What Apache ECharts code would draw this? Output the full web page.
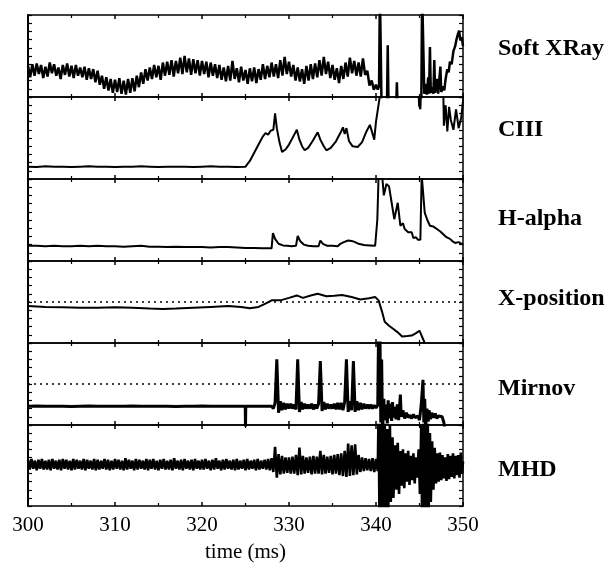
<!DOCTYPE html>
<html><head><meta charset="utf-8">
<script src="https://cdn.jsdelivr.net/npm/echarts@6/dist/echarts.min.js"></script>
<style>html,body{margin:0;padding:0;background:#fff}#c{width:615px;height:564px}</style>
</head><body><div id="c"></div>
<script>
// ---------- DATA ----------
const timeRange = [300, 350];
const timeTickStep = 10;
const panelNames = ['Soft XRay', 'CIII', 'H-alpha', 'X-position', 'Mirnov', 'MHD'];
const referenceLevels = { 'X-position': 5, 'Mirnov': 5 };

// Soft XRay: regular samples from 300 ms every 0.25 ms, then irregular tail
const softXrayStart = 300, softXrayStep = 0.25;
const softXrayValues = [
  3.8,2.4,4.0,2.6, 4.1,2.8,3.9,2.3, 3.7,2.5,4.2,2.9, 4.0,2.6,3.6,2.2,
  3.9,2.7,4.1,2.5, 3.8,2.3,3.9,2.6, 3.6,2.4,3.7,2.1, 3.5,2.2,3.4,1.8,
  3.2,1.5,2.6,1.0, 2.4,0.8,2.2,0.5, 2.1,0.6,2.3,0.4, 2.0,0.3,2.2,0.5,
  2.3,0.7,2.6,1.2, 3.0,1.6,3.4,2.0, 3.6,2.2,3.9,2.4, 3.8,2.1,4.2,2.6,
  4.3,2.7,4.5,2.5, 4.4,2.9,4.8,2.8, 5.0,3.0,4.7,2.7, 4.6,2.9,4.5,2.6,
  4.4,2.8,4.3,2.4, 4.2,2.6,4.0,2.3, 3.9,2.1,3.6,1.9, 3.8,2.0,4.4,2.2,
  3.5,1.8,3.7,2.0, 3.3,1.6,3.5,1.9, 3.6,1.7,3.4,2.1, 4.0,2.2,3.8,2.4,
  4.2,2.5,4.0,2.3, 4.5,2.6,4.9,2.8, 4.3,2.5,3.9,2.0, 3.6,1.9,3.4,1.6,
  3.8,2.0,4.0,2.2, 4.1,2.4,4.5,2.6, 4.9,2.8,4.3,2.3, 3.9,2.1,3.5,1.7,
  3.8,2.2,4.2,2.5, 4.8,2.9,4.4,2.6, 4.2,2.5,4.7,2.7, 3.2,1.4,2.0,0.9
];
const softXrayTail = [
  [340.0,1.5],[340.2,0.9],[340.35,1.3],[340.45,13],[340.6,13],[340.65,-2],
  [341.25,-2],[341.35,6.3],[341.45,-2],[342.3,-2],[342.4,1.8],[342.5,-2],
  [345.2,-2],[345.3,13],[345.45,13],[345.55,0.4],[345.7,1.6],[345.85,0.3],
  [346.0,2.4],[346.1,0.4],[346.2,6.1],[346.3,0.5],[346.45,1.2],[346.6,0.4],
  [346.7,4.5],[346.8,0.5],[347.0,2.2],[347.15,0.4],[347.4,3.7],[347.5,0.6],
  [347.7,1.3],[347.85,0.8],[348.0,2.2],[348.2,3.4],[348.35,3.0],[348.5,4.3],
  [348.7,4.0],[348.9,5.6],[349.1,6.2],[349.25,7.0],[349.4,7.6],[349.55,8.1],
  [349.7,6.9],[349.85,7.3],[350,6.2]
];

// CIII
const ciiiStart = 300, ciiiStep = 1;
const ciiiValues = [1.5,1.45,1.55,1.5,1.5,1.45,1.5,1.55,1.5,1.5,1.45,1.5,1.5,
  1.55,1.5,1.45,1.5,1.5,1.5,1.45,1.5,1.55,1.5,1.5,1.45,1.5];
const ciiiTail = [
  [325.5,2.2],[326.0,3.2],[326.5,4.2],[327.0,5.2],[327.3,5.6],[327.6,5.4],
  [327.9,5.9],[328.2,6.0],[328.4,8.0],[328.6,6.2],[328.9,4.5],[329.2,3.3],
  [329.6,3.6],[330.0,4.2],[330.5,5.2],[330.9,6.0],[331.2,4.8],[331.5,4.0],
  [331.8,3.5],[332.2,3.8],[332.7,4.6],[333.3,5.7],[333.6,4.8],[334.0,4.0],
  [334.3,3.5],[334.8,3.8],[335.4,4.6],[335.9,5.6],[336.2,6.3],[336.4,5.5],
  [336.6,6.2],[336.9,4.6],[337.3,4.0],[337.9,3.9],[338.4,4.5],[338.9,5.8],
  [339.3,6.6],[339.5,5.9],[339.8,4.8],[340.0,7.0],[340.2,8.4],[340.5,10.5],
  [340.6,13],[344.8,13],[344.95,9.0],[345.1,8.5],[345.25,13],[347.7,13],
  [347.8,6.5],[348.0,9.0],[348.2,5.8],[348.4,8.8],[348.6,7.2],[348.9,6.0],
  [349.2,8.5],[349.5,6.2],[349.8,7.5],[350,9.5]
];

// H-alpha
const halphaStart = 300, halphaStep = 1;
const halphaValues = [1.85,1.85,1.8,1.85,1.8,1.8,1.85,1.8,1.85,1.8,1.8,1.75,1.8,
  1.85,1.75,1.75,1.7,1.75,1.7,1.7,1.7,1.65,1.7,1.7,1.65,1.6,1.6,1.55];
const halphaTail = [
  [328.0,1.55],[328.15,3.4],[328.4,2.7],[328.8,2.1],[329.3,1.9],[329.8,1.85],
  [330.3,1.8],[330.8,1.85],[331.0,3.05],[331.3,2.4],[331.7,2.0],[332.2,1.85],
  [332.8,1.8],[333.4,1.8],[333.6,2.5],[333.9,2.1],[334.4,1.85],[335.0,1.85],
  [335.6,1.8],[335.9,2.1],[336.3,2.3],[336.8,2.5],[337.2,2.45],[337.6,2.3],
  [338.0,2.1],[338.6,1.95],[339.3,1.9],[339.9,1.85],[340.15,5],[340.3,10.5],
  [340.7,10.5],[340.9,8.0],[341.2,9.4],[341.5,9.1],[341.8,7.1],[342.1,5.1],
  [342.5,7.1],[342.8,4.3],[343.1,4.6],[343.3,3.9],[343.5,4.1],[343.7,3.5],
  [343.9,3.3],[344.1,3.5],[344.3,2.8],[344.6,2.9],[344.8,2.6],[345.1,2.6],
  [345.25,10.5],[345.45,10.5],[345.6,5.9],[345.9,5.0],[346.2,4.3],[346.6,4.2],
  [347.0,3.9],[347.4,3.6],[347.7,3.3],[348.1,2.9],[348.5,2.7],[348.8,2.4],
  [349.1,2.2],[349.5,2.3],[350,2.0]
];

// X-position
const xposPoints = [
  [300,4.5],[301,4.45],[302,4.4],[304,4.35],[306,4.3],[308,4.3],[310,4.35],
  [312,4.3],[314,4.2],[315.5,4.15],[317,4.2],[319,4.3],[321,4.4],[323,4.5],
  [324.5,4.4],[325.5,4.25],[326.5,4.4],[327.3,4.8],[328.0,5.2],[329.0,5.2],
  [330.0,5.5],[330.9,5.8],[331.6,5.5],[332.5,5.8],[333.3,6.0],[334.3,5.7],
  [335.2,5.75],[336.1,5.85],[337.2,5.6],[338.2,5.3],[339.2,5.45],[339.9,5.6],
  [340.3,5.2],[340.7,3.8],[341.0,2.6],[341.5,2.1],[342.0,1.7],[342.5,1.3],
  [343.0,0.8],[343.6,0.85],[344.1,0.9],[344.6,1.2],[345.0,1.5],[345.6,0.0],
  [345.8,-0.8]
];

// Mirnov
const mirnovStart = 300, mirnovStep = 1;
const mirnovValues = [2.3,2.32,2.28,2.3,2.3,2.27,2.3,2.32,2.3,2.28,2.3,2.3,2.33,
  2.3,2.28,2.3,2.3,2.27,2.3,2.3,2.32,2.3,2.28,2.3,2.3];
const mirnovDrop = [[324.97,2.3],[325.0,-0.5],[325.03,2.3],[326,2.28],[327,2.3]];
const mirnovMidStart = 328, mirnovMidStep = 0.2;
const mirnovMidValues = [
  2.3,2.0,2.7,8.0,1.5,2.9,1.8,2.7,1.9,2.6,
  2.0,2.6,2.0,2.5,1.9,8.0,1.6,2.8,1.9,2.6,
  2.0,2.5,2.0,2.6,1.9,2.5,2.0,2.6,7.8,1.7,
  2.8,1.9,2.6,2.0,2.5,2.0,2.6,1.9,2.7,1.9,
  2.7,1.8,2.8,8.0,1.6,2.9,1.8,7.8,1.6,2.9,
  1.8,2.7,1.9,2.6,2.0,2.5,2.0,2.5,2.0,2.4,
  2.1,2.4
];
const mirnovTail = [
  [340.3,12],[340.4,3],[340.45,12],[340.55,0.3],[340.65,8],[340.75,-1],
  [340.9,3.2],[341.0,0.6],[341.15,2.5],[341.3,0.2],[341.4,3.0],[341.5,0.8],
  [341.65,2.6],[341.8,0.5],[341.9,2.8],[342.0,0.9],[342.15,2.2],[342.3,0.7],
  [342.45,2.5],[342.6,0.6],[342.8,3.7],[342.9,1.0],[343.1,1.8],[343.3,0.8],
  [343.5,1.5],[343.7,0.9],[343.9,1.2],[344.1,0.8],[344.3,1.3],[344.5,0.9],
  [344.8,1.1],[345.0,0.6],[345.2,2.5],[345.4,5.5],[345.5,0.3],[345.6,3.2],
  [345.7,-0.5],[345.85,2.0],[346.0,0.4],[346.1,1.8],[346.25,0.7],[346.4,1.5],
  [346.6,0.9],[346.8,1.4],[347.0,0.8],[347.2,1.1],[347.4,0.9],[347.6,1.0],
  [347.8,0.3],[348.0,-1]
];

// MHD
const mhdStart = 300, mhdStep = 0.2;
const mhdValues = [
  5.7,4.5,5.8,4.6,5.6,4.4,5.7,4.6,5.8,4.5,
  5.6,4.5,5.7,4.4,5.8,4.6,5.6,4.5,5.7,4.4,
  5.8,4.6,5.7,4.5,5.6,4.4,5.8,4.5,5.7,4.6,
  5.6,4.5,5.8,4.4,5.7,4.6,5.6,4.5,5.8,4.4,
  5.7,4.5,5.6,4.6,5.8,4.5,5.7,4.4,5.6,4.5,
  5.8,4.6,5.7,4.5,5.6,4.4,5.9,4.5,5.7,4.6,
  5.6,4.4,5.8,4.5,5.7,4.6,5.6,4.5,5.8,4.4,
  5.7,4.6,5.8,4.5,5.6,4.4,5.7,4.6,5.8,4.5,
  5.6,4.5,5.7,4.4,5.9,4.6,5.6,4.5,5.7,4.4,
  5.8,4.6,5.6,4.5,5.7,4.4,5.8,4.6,5.6,4.5,
  5.7,4.5,5.8,4.6,5.6,4.4,5.7,4.5,5.9,4.6,
  5.6,4.4,5.7,4.5,5.8,4.6,5.6,4.5,5.7,4.4,
  5.8,4.5,5.6,4.6,5.7,4.4,5.8,4.5,5.6,4.6,
  5.7,4.4,5.8,4.5,5.6,4.6,5.7,4.5,5.8,4.4,
  5.9,4.2,7.3,3.5,6.4,3.9,6.2,4.0,6.0,4.1,
  6.0,4.0,6.1,4.0,6.3,3.8,7.2,3.9,6.2,4.0,
  6.0,4.1,6.1,3.9,6.2,4.0,6.1,4.0,6.8,3.9,
  6.3,4.0,6.1,4.1,6.2,3.9,6.3,4.0,6.4,3.8,
  6.5,3.7,6.8,3.6,7.7,3.7,7.5,3.8,7.6,3.9,
  6.3,4.2,6.0,4.3,5.9,4.4,5.8,4.3,5.9,4.2,
  5.8,4.3
];
const mhdTail = [
  [340.3,12],[340.4,-2],[340.5,12],[340.6,-2],[340.75,12],[340.85,-2],
  [341.0,11],[341.1,-2],[341.3,9.5],[341.4,-1],[341.6,10],[341.7,0.5],
  [341.9,8.5],[342.0,1.0],[342.2,7.5],[342.35,2.0],[342.5,7.8],[342.65,1.5],
  [342.8,6.8],[342.95,2.5],[343.1,7.0],[343.25,2.2],[343.4,6.5],[343.55,3.0],
  [343.7,6.8],[343.85,2.6],[344.0,6.2],[344.15,3.2],[344.3,6.5],[344.45,2.8],
  [344.6,6.0],[344.75,3.5],[344.9,7.0],[345.05,1.5],[345.2,10],[345.3,-2],
  [345.45,12],[345.55,-2],[345.7,12],[345.8,-2],[345.95,11],[346.05,-1],
  [346.2,9],[346.3,0.5],[346.45,8],[346.6,2.0],[346.75,7.2],[346.9,2.8],
  [347.05,6.5],[347.2,3.0],[347.35,6.6],[347.5,3.2],[347.65,6.3],[347.8,3.4],
  [347.95,6.0],[348.1,3.1],[348.25,6.4],[348.4,3.3],[348.55,6.2],[348.7,3.6],
  [348.85,6.5],[349.0,3.4],[349.15,6.2],[349.3,3.8],[349.45,6.3],[349.6,3.5],
  [349.75,6.6],[349.9,4.0],[350,5.5]
];

// ---------- BUILD ----------
function sampled(t0, dt, vals) { return vals.map((v, i) => [t0 + i * dt, v]); }

const seriesData = [
  sampled(softXrayStart, softXrayStep, softXrayValues).concat(softXrayTail),
  sampled(ciiiStart, ciiiStep, ciiiValues).concat(ciiiTail),
  sampled(halphaStart, halphaStep, halphaValues).concat(halphaTail),
  xposPoints,
  sampled(mirnovStart, mirnovStep, mirnovValues).concat(mirnovDrop,
    sampled(mirnovMidStart, mirnovMidStep, mirnovMidValues), mirnovTail),
  sampled(mhdStart, mhdStep, mhdValues).concat(mhdTail)
];
const lineWidths = [2.5, 2, 2, 2, 3, 2.6];
const labelY = [49, 130, 219, 299, 389, 470];

const PANEL_TOP = 15, PANEL_H = 82, LEFT = 28, WIDTH = 435;
const FONT = '"Liberation Serif","Times New Roman",serif';
const grids = [], xAxes = [], yAxes = [], series = [], graphics = [];

for (let i = 0; i < panelNames.length; i++) {
  grids.push({ left: LEFT, width: WIDTH, top: PANEL_TOP + i * PANEL_H, height: PANEL_H });
  const isLast = i === panelNames.length - 1;
  const xBase = {
    type: 'value', gridIndex: i, min: timeRange[0], max: timeRange[1], interval: timeTickStep,
    splitLine: { show: false }, minorSplitLine: { show: false },
    axisLine: { show: true, onZero: false, lineStyle: { color: '#000', width: 1.5 } },
    axisTick: { show: true, inside: true, length: 4, lineStyle: { color: '#000', width: 1.5 } },
    minorTick: { show: true, splitNumber: 2, length: 3, lineStyle: { color: '#000', width: 1.2 } }
  };
  xAxes.push(Object.assign({}, xBase, {
    position: 'bottom',
    axisLabel: { show: isLast, color: '#000', fontSize: 21, fontFamily: FONT, margin: 9 },
    name: isLast ? 'time (ms)' : '',
    nameLocation: 'middle', nameGap: 36,
    nameTextStyle: { color: '#000', fontSize: 21, fontFamily: FONT }
  }));
  xAxes.push(Object.assign({}, xBase, { position: 'top', axisLabel: { show: false } }));
  const yBase = {
    type: 'value', gridIndex: i, min: 0, max: 10, interval: 1,
    splitLine: { show: false }, axisLabel: { show: false },
    axisTick: { show: true, inside: true, length: 4, lineStyle: { color: '#000', width: 1.2 } }
  };
  yAxes.push(Object.assign({}, yBase, { position: 'left',
    axisLine: { show: true, onZero: false, lineStyle: { color: '#000', width: 2 } } }));
  yAxes.push(Object.assign({}, yBase, { position: 'right',
    axisLine: { show: true, onZero: false, lineStyle: { color: '#000', width: 1.5 } } }));

  const s = {
    type: 'line', xAxisIndex: 2 * i, yAxisIndex: 2 * i,
    data: seriesData[i], showSymbol: false, symbol: 'none', clip: true,
    silent: true, animation: false,
    lineStyle: { color: '#000', width: lineWidths[i] }
  };
  const ref = referenceLevels[panelNames[i]];
  if (ref !== undefined) {
    s.markLine = { silent: true, symbol: 'none', label: { show: false }, animation: false,
      lineStyle: { color: '#000', width: 1.5, type: [2, 4] }, data: [{ yAxis: ref }] };
  }
  series.push(s);

  graphics.push({ type: 'text', x: 498, y: labelY[i], silent: true,
    style: { text: panelNames[i], fill: '#000', fontSize: 24, fontWeight: 'bold',
      fontFamily: FONT, align: 'left', verticalAlign: 'middle' } });
}

const chart = echarts.init(document.getElementById('c'), null, { renderer: 'canvas' });
chart.setOption({
  backgroundColor: '#fff', animation: false,
  grid: grids, xAxis: xAxes, yAxis: yAxes, series: series, graphic: graphics
});
</script></body></html>
